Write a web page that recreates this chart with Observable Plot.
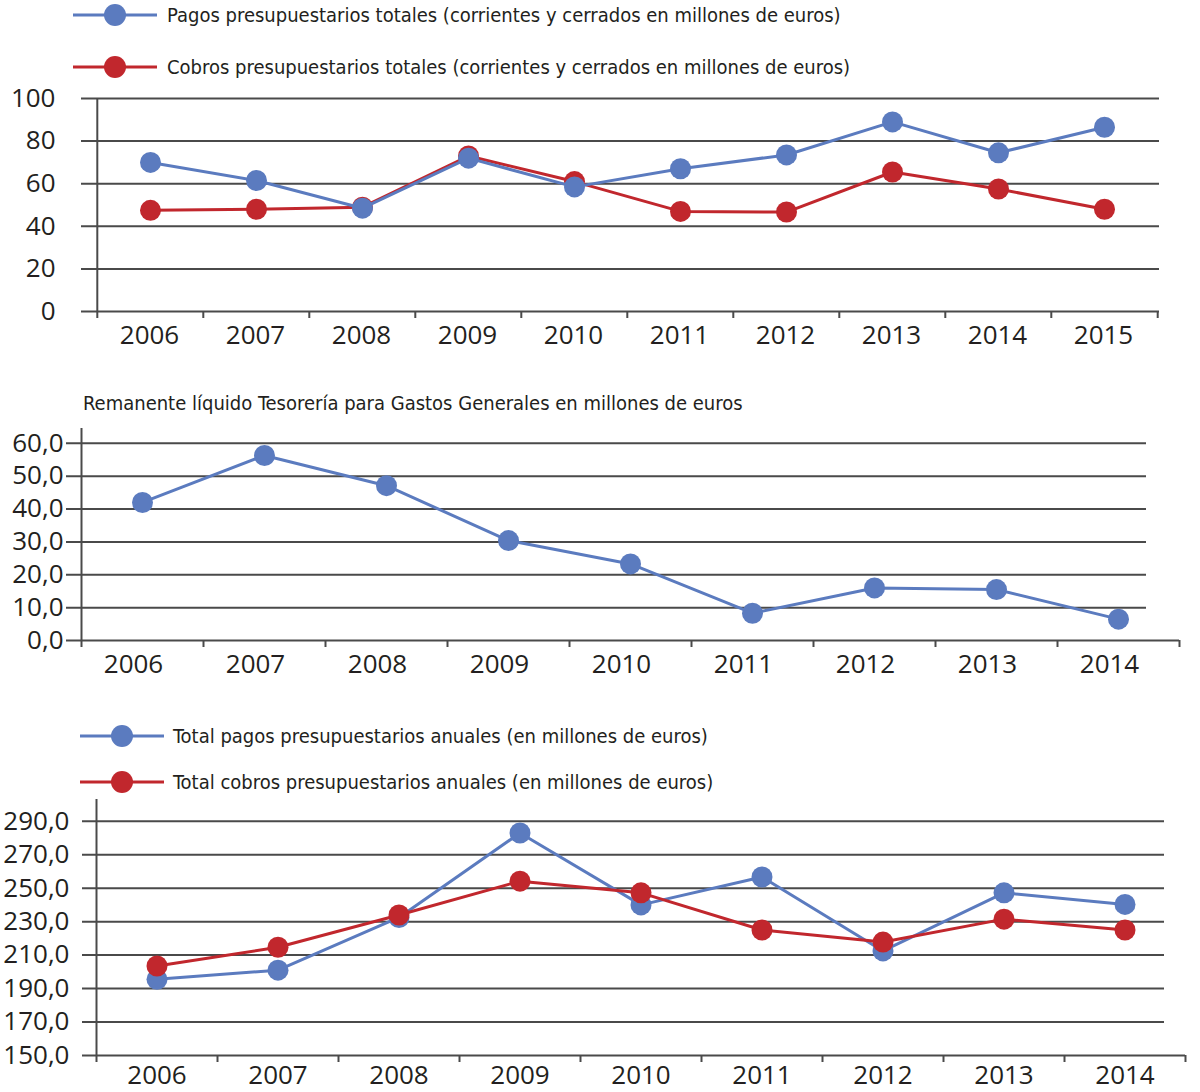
<!DOCTYPE html>
<html>
<head>
<meta charset="utf-8">
<script src="https://cdn.jsdelivr.net/npm/d3@7"></script>
<script src="https://cdn.jsdelivr.net/npm/@observablehq/plot@0.6"></script>
<style>
  html, body { margin: 0; padding: 0; background: #ffffff; }
  #root { position: relative; width: 1200px; height: 1092px; overflow: hidden; background: #fff; }
  .abs { position: absolute; }
  .legend-row { position: absolute; display: flex; align-items: center; height: 24px;
    font-family: "DejaVu Sans Condensed", "Liberation Sans Narrow", "Roboto", sans-serif;
    font-size: 20px; color: #231f20; white-space: nowrap; }
  .legend-row svg { display: block; }
  .title { position: absolute; font-family: "DejaVu Sans Condensed", "Liberation Sans Narrow", "Roboto", sans-serif;
    font-size: 20px; color: #231f20; white-space: nowrap; line-height: 24px; }
</style>
</head>
<body>
<div id="root"></div>
<script>
// ---------- data ----------
const years1 = ["2006", "2007", "2008", "2009", "2010", "2011", "2012", "2013", "2014", "2015"];
const pagosTotales = [70, 61.5, 48.5, 72, 58.5, 67, 73.5, 89, 74.5, 86.5];
const cobrosTotales = [47.5, 48, 49, 73, 61, 47, 46.7, 65.5, 57.5, 48];
const yTicks1 = [0, 20, 40, 60, 80, 100];

const years2 = ["2006", "2007", "2008", "2009", "2010", "2011", "2012", "2013", "2014"];
const remanente = [42, 56.3, 47.1, 30.4, 23.3, 8.3, 16, 15.5, 6.5];
const yTicks2 = [0, 10, 20, 30, 40, 50, 60];

const years3 = ["2006", "2007", "2008", "2009", "2010", "2011", "2012", "2013", "2014"];
const pagosAnuales = [195.5, 201, 232.5, 283, 240, 256.7, 212.5, 247.2, 240.3];
const cobrosAnuales = [203.5, 214.7, 234, 254.2, 247.2, 225, 217.8, 231.5, 225];
const yTicks3 = [150, 170, 190, 210, 230, 250, 270, 290];

const legend1 = ["Pagos presupuestarios totales (corrientes y cerrados en millones de euros)",
                 "Cobros presupuestarios totales (corrientes y cerrados en millones de euros)"];
const title2 = "Remanente líquido Tesorería para Gastos Generales en millones de euros";
const legend3 = ["Total pagos presupuestarios anuales (en millones de euros)",
                 "Total cobros presupuestarios anuales (en millones de euros)"];

// ---------- style ----------
const BLUE = "#5b7bbf";
const RED = "#c1272d";
const GRID = "#4a4a4a";
const TEXT = "#231f20";
const tickFont = '"Open Sans", "DejaVu Sans", sans-serif';

const root = document.getElementById("root");
const comma = d => d.toFixed(1).replace(".", ",");
const toRows = (years, vals) => years.map((year, i) => ({year, value: vals[i]}));

function legendRow(text, color, left, centerY, swatchW, textGap) {
  const div = document.createElement("div");
  div.className = "legend-row";
  div.style.left = left + "px";
  div.style.top = (centerY - 12) + "px";
  const ns = "http://www.w3.org/2000/svg";
  const svg = document.createElementNS(ns, "svg");
  svg.setAttribute("width", swatchW);
  svg.setAttribute("height", 24);
  const line = document.createElementNS(ns, "line");
  line.setAttribute("x1", 0); line.setAttribute("x2", swatchW);
  line.setAttribute("y1", 12); line.setAttribute("y2", 12);
  line.setAttribute("stroke", color); line.setAttribute("stroke-width", 3);
  const c = document.createElementNS(ns, "circle");
  c.setAttribute("cx", swatchW / 2); c.setAttribute("cy", 12); c.setAttribute("r", 11);
  c.setAttribute("fill", color);
  svg.append(line, c);
  const span = document.createElement("span");
  span.textContent = text;
  span.style.marginLeft = textGap + "px";
  div.append(svg, span);
  root.append(div);
}

function panel({top, height, marginLeft, marginRight, marginTop, marginBottom, years, series, yDomain, yTicks, fmt, gridLeft, gridGap, labelPad, xPad, labelDx}) {
  const width = 1200;
  const bw = (width - marginLeft - marginRight) / years.length;
  const marks = [
    // gridlines (excluding baseline)
    Plot.ruleY(yTicks.slice(1), {stroke: GRID, strokeWidth: 2, insetLeft: -gridLeft, insetRight: gridGap}),
    // baseline / x axis line
    Plot.ruleY([yDomain[0]], {stroke: GRID, strokeWidth: 2, insetLeft: -gridLeft}),
    // vertical y-axis line
    Plot.ruleX([years[0]], {stroke: GRID, strokeWidth: 2, dx: -bw / 2}),
    // boundary ticks
    Plot.axisX({ticks: years, tickSize: 7, tickFormat: () => "", stroke: GRID, strokeWidth: 2, dx: -bw / 2, label: null}),
    Plot.axisX({ticks: [years[years.length - 1]], tickSize: 7, tickFormat: () => "", stroke: GRID, strokeWidth: 2, dx: bw / 2, label: null}),
    // category labels
    Plot.axisX({ticks: years, tickSize: 0, tickPadding: xPad, fill: TEXT, label: null, dx: labelDx}),
    // y labels
    Plot.axisY({ticks: yTicks, tickSize: 0, tickPadding: labelPad, tickFormat: fmt, fill: TEXT, label: null})
  ];
  for (const s of series) {
    const rows = toRows(years, s.values);
    marks.push(Plot.line(rows, {x: "year", y: "value", stroke: s.color, strokeWidth: 3}));
    marks.push(Plot.dot(rows, {x: "year", y: "value", r: 10.5, fill: s.color}));
  }
  const chart = Plot.plot({
    width, height, marginLeft, marginRight, marginTop, marginBottom,
    x: {type: "band", domain: years, padding: 0, axis: null, label: null},
    y: {domain: yDomain, axis: null, label: null},
    style: {fontFamily: tickFont, fontSize: "26px", color: TEXT, background: "transparent", overflow: "visible"},
    marks
  });
  chart.classList.add("abs");
  chart.style.left = "0px";
  chart.style.top = top + "px";
  root.append(chart);
}

// ---------- panel 1 ----------
legendRow(legend1[0], BLUE, 73, 15, 84, 10);
legendRow(legend1[1], RED, 73, 67, 84, 10);
panel({
  top: 80, height: 270, marginLeft: 95, marginRight: 41, marginTop: 18, marginBottom: 39,
  years: years1,
  series: [{values: cobrosTotales, color: RED}, {values: pagosTotales, color: BLUE}],
  yDomain: [0, 100], yTicks: yTicks1, fmt: d => String(d),
  gridLeft: 14, gridGap: 0, labelPad: 40, xPad: 14, labelDx: -1
});

// ---------- panel 2 ----------
const t2 = document.createElement("div");
t2.className = "title";
t2.textContent = title2;
t2.style.left = "83px";
t2.style.top = (403 - 12) + "px";
root.append(t2);
panel({
  top: 415, height: 270, marginLeft: 81, marginRight: 21, marginTop: 13, marginBottom: 45,
  years: years2,
  series: [{values: remanente, color: BLUE}],
  yDomain: [0, 64.5], yTicks: yTicks2, fmt: comma,
  gridLeft: 15, gridGap: 33, labelPad: 18, xPad: 14, labelDx: -9
});

// ---------- panel 3 ----------
legendRow(legend3[0], BLUE, 80, 736, 84, 9);
legendRow(legend3[1], RED, 80, 782, 84, 9);
panel({
  top: 790, height: 302, marginLeft: 96, marginRight: 15, marginTop: 9, marginBottom: 37,
  years: years3,
  series: [{values: pagosAnuales, color: BLUE}, {values: cobrosAnuales, color: RED}],
  yDomain: [150, 303], yTicks: yTicks3, fmt: comma,
  gridLeft: 14, gridGap: 21, labelPad: 27, xPad: 10, labelDx: 0
});
</script>
</body>
</html>
